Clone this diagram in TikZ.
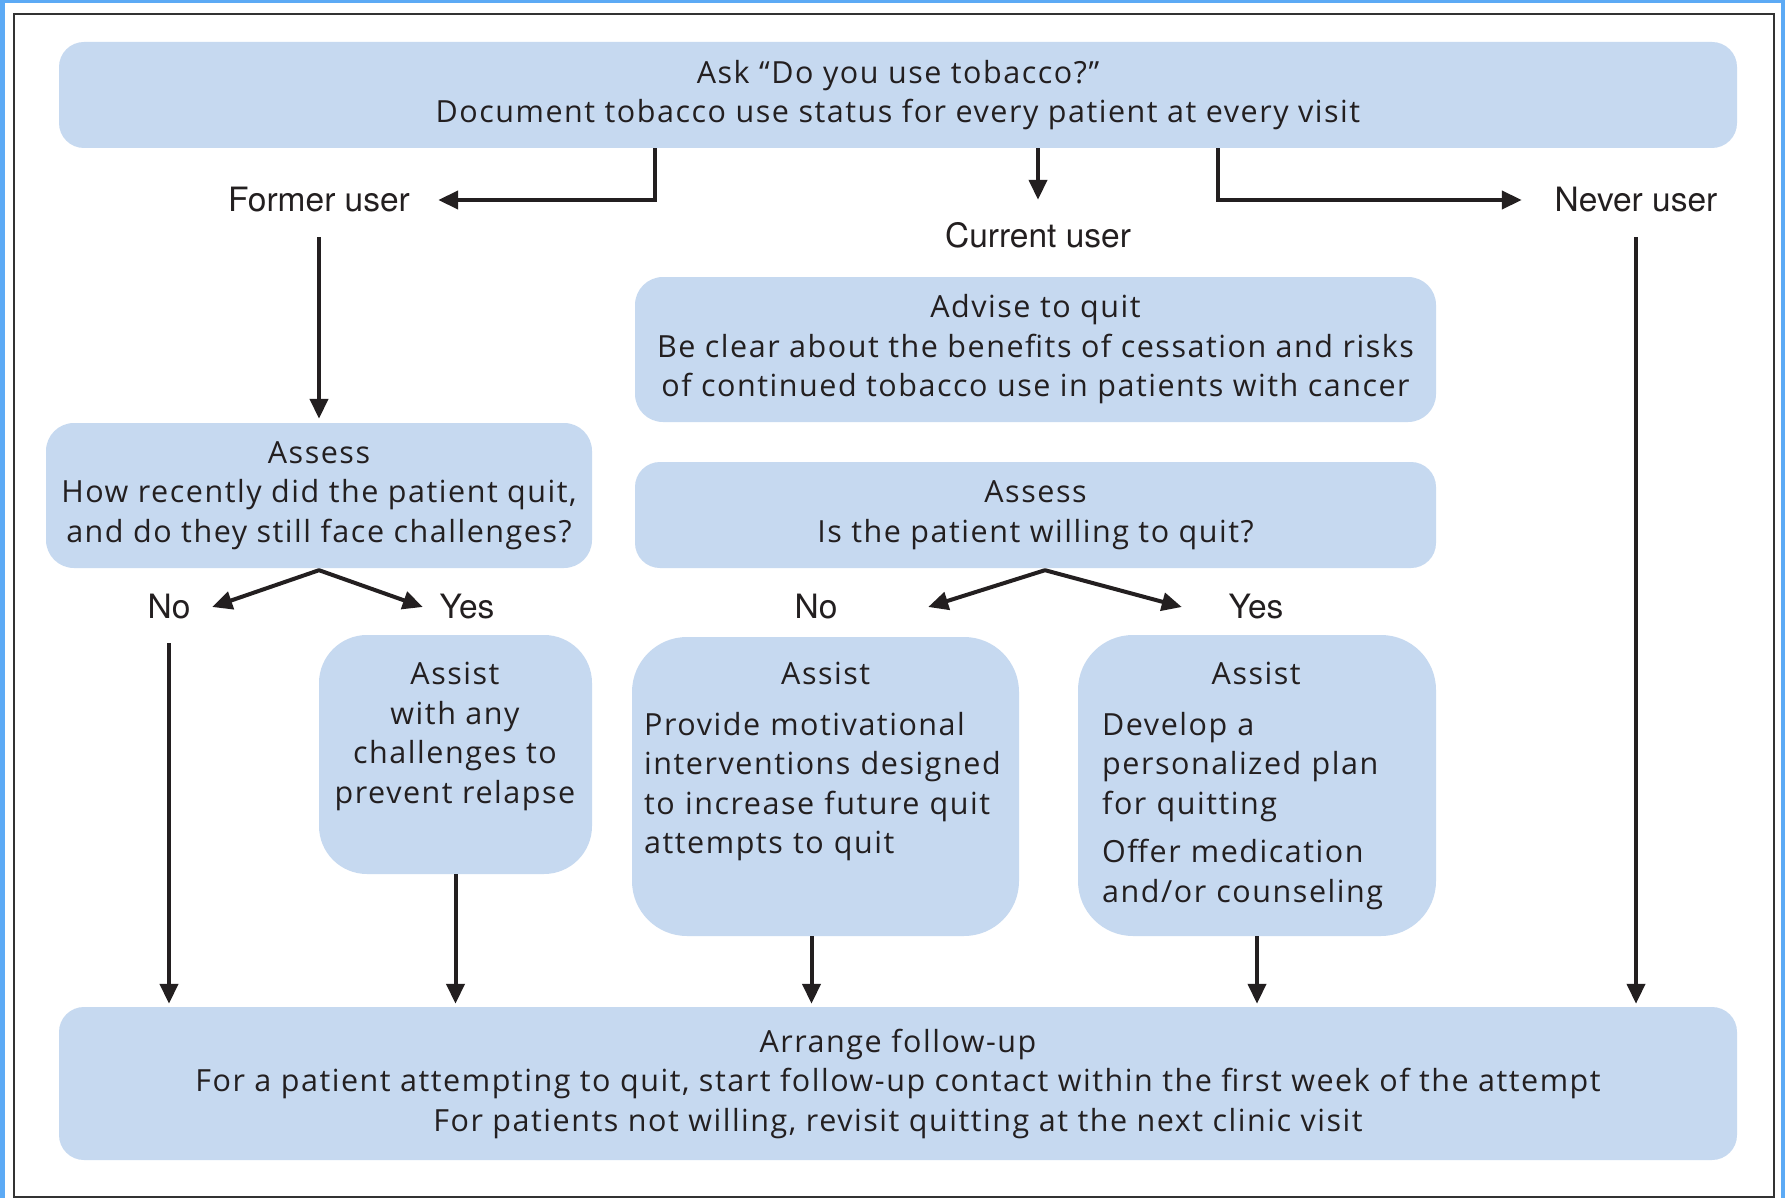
\documentclass[tikz,border=0pt]{standalone}
\usepackage{fontspec}
\setmainfont{Open Sans}[LetterSpace=5]
\newfontfamily\lblfont{TeX Gyre Heros}
\usetikzlibrary{arrows.meta}
\definecolor{boxblue}{RGB}{198,217,240}
\definecolor{frameblue}{RGB}{92,170,245}
\definecolor{ink}{RGB}{35,31,32}
\begin{document}
\begin{tikzpicture}[x=1pt,y=-1pt,
  box/.style={fill=boxblue, draw=none, rounded corners=#1, inner sep=0pt,
    text=ink, align=center, font=\fontsize{30.5}{39.5}\selectfont},
  box/.default=25pt,
  txt/.style={inner sep=0pt, text=ink, font=\fontsize{30.5}{39.5}\selectfont},
  lbl/.style={inner sep=0pt, text=ink, font=\lblfont\fontsize{33.5}{36}\selectfont},
  arr/.style={line width=4pt, draw=ink, line join=miter,
    -{Triangle[length=20pt,width=18pt]}},
  fork/.style={line width=4pt, draw=ink, line join=round,
    {Triangle[length=20pt,width=18pt]}-{Triangle[length=20pt,width=18pt]}}
]
% frame
\fill[frameblue] (0,0) rectangle (1785,1198);
\fill[white] (5,3) rectangle (1781,1198);
\draw[line width=2.5pt, draw=black!80] (14,14) rectangle (1774,1197);
\useasboundingbox (0,0) rectangle (1785,1198);

% boxes
\node[box, minimum width=1678pt, minimum height=106pt] (ask) at (898,95)
  {Ask “Do you use tobacco?”\\Document tobacco use status for every patient at every visit};
\node[box=28pt, minimum width=801pt, minimum height=145pt] (advise) at (1035.5,349.5)
  {Advise to quit\\Be clear about the benefits of cessation and risks\\of continued tobacco use in patients with cancer};
\node[box=28pt, minimum width=546pt, minimum height=145pt] (assessL) at (319,495.5)
  {Assess\\How recently did the patient quit,\\and do they still face challenges?};
\node[box, minimum width=801pt, minimum height=106pt] (assessM) at (1035.5,515)
  {Assess\\Is the patient willing to quit?};
\node[box=48pt, minimum width=273pt, minimum height=239pt] (assistL) at (455.5,754.5) {};
\node[box=55pt, minimum width=387pt, minimum height=299pt] (assistM) at (825.5,786.5) {};
\node[box=55pt, minimum width=358pt, minimum height=301pt] (assistR) at (1257,785.5) {};
\node[box, minimum width=1678pt, minimum height=153pt] (follow) at (898,1083.5)
  {Arrange follow-up\\For a patient attempting to quit, start follow-up contact within the first week of the attempt\\For patients not willing, revisit quitting at the next clinic visit};

% texts in assist boxes
\node[txt, align=center, anchor=north] (assistLt) at (455,662)
  {Assist\\with any\\challenges to\\prevent relapse};
\node[txt, align=left, text width=363pt, anchor=north west] (assistMt) at (644,662)
  {\makebox[\linewidth][c]{Assist}\\[11pt]Provide motivational\\interventions designed\\to increase future quit\\attempts to quit};
\node[txt, align=left, text width=308pt, anchor=north west] (assistRt) at (1102,662)
  {\makebox[\linewidth][c]{Assist}\\[11pt]Develop a\\personalized plan\\for quitting\\[9pt]Offer medication\\and/or counseling};

% labels
\node[lbl, minimum width=238pt, minimum height=74pt] (former) at (319,200) {Former user};
\node[lbl, minimum height=70pt] (current) at (1038,235) {Current user};
\node[lbl, minimum width=228pt, minimum height=74pt] (never) at (1636,200) {Never user};
\node[lbl, minimum width=86pt, minimum height=72pt] (noL) at (169,607) {No};
\node[lbl, minimum width=88pt] (yesL) at (467,607) {Yes};
\node[lbl, minimum width=224pt] (noM) at (816,607) {No};
\node[lbl, minimum width=148pt] (yesM) at (1256,607) {Yes};

% connector end points on box edges
\coordinate (askOutL) at ([xshift=-243pt]ask.south);
\coordinate (askOutR) at ([xshift=320pt]ask.south);
\coordinate (amOut) at ([xshift=-14pt]assistM.south);

% connectors
\draw[arr] (askOutL) |- (former.east);
\draw[arr] (ask.south -| current.north) -- (current.north);
\draw[arr] (askOutR) |- (never.west);
\draw[arr, shorten >=4pt] (former.south) -- (assessL.north);
\draw[fork] (noL.east) -- ([yshift=-2pt]assessL.south) -- (yesL.west);
\draw[fork] (noM.east) -- ([xshift=9.5pt,yshift=-2pt]assessM.south) -- (yesM.west);
\draw[arr, shorten >=3pt] (noL.south) -- (noL.south |- follow.north);
\draw[arr, shorten >=3pt] (assistL.south) -- (follow.north -| assistL.south);
\draw[arr, shorten >=3pt] (amOut) -- (follow.north -| amOut);
\draw[arr, shorten >=3pt] (assistR.south) -- (follow.north -| assistR.south);
\draw[arr, shorten >=3pt] (never.south) -- (follow.north -| never.south);
\end{tikzpicture}
\end{document}
